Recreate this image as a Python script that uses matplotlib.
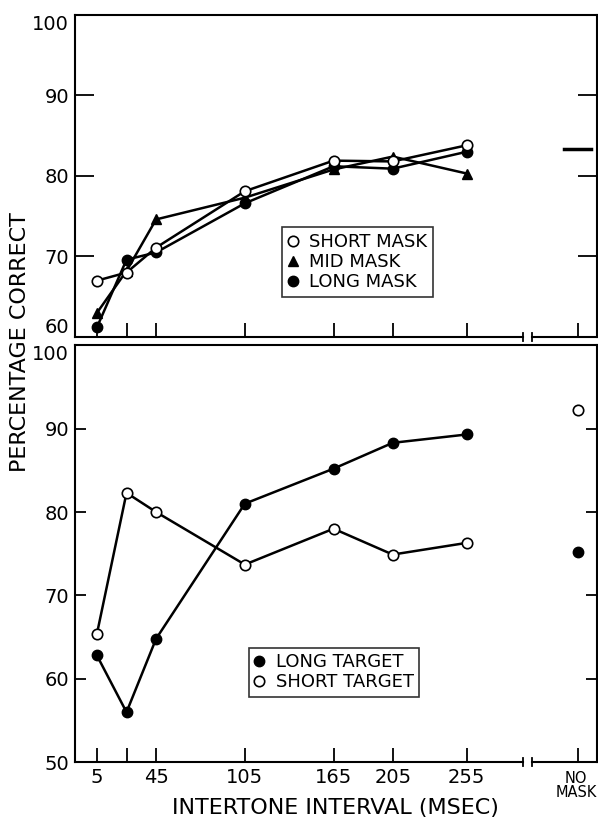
import numpy as np
import matplotlib.pyplot as plt

# intertone intervals (msec); the unlabeled tick is 25
x = [5, 25, 45, 105, 165, 205, 255]
NOMASK = 330  # position of the "no mask" column

short_mask = [67.0, 68.0, 71.1, 78.1, 81.9, 81.8, 83.8]
mid_mask = [63.0, 68.2, 74.6, 77.3, 80.8, 82.4, 80.3]
long_mask = [61.2, 69.6, 70.5, 76.6, 81.2, 80.9, 83.0]
nomask_top = 83.3

long_target = [62.8, 56.0, 64.8, 81.0, 85.2, 88.3, 89.3]
short_target = [65.4, 82.3, 80.0, 73.7, 78.0, 74.9, 76.3]
nomask_long = 75.2
nomask_short = 92.2

tick_pos = [5, 25, 45, 105, 165, 205, 255, NOMASK]
tick_lab = ['5', '', '45', '105', '165', '205', '255', '']

plt.rcParams['font.family'] = 'DejaVu Sans'

fig = plt.figure(figsize=(5.98, 8.24), dpi=100)
ax1 = fig.add_axes([0.125, 0.591, 0.873, 0.391])
ax2 = fig.add_axes([0.125, 0.075, 0.873, 0.506])

lw = 1.8
ms = 7.5
ax1.plot(x, short_mask, '-o', color='black', lw=lw, ms=ms, mfc='white', mec='black', mew=1.2, label='SHORT MASK', zorder=3)
ax1.plot(x, mid_mask, '-^', color='black', lw=lw, ms=ms, label='MID MASK', zorder=2)
ax1.plot(x, long_mask, '-o', color='black', lw=lw, ms=ms, label='LONG MASK', zorder=2)
ax1.plot([NOMASK - 9, NOMASK + 9], [nomask_top, nomask_top], color='black', lw=2.5)

ax2.plot(x, long_target, '-o', color='black', lw=lw, ms=ms, label='LONG TARGET', zorder=2)
ax2.plot(x, short_target, '-o', color='black', lw=lw, ms=ms, mfc='white', mec='black', mew=1.2, label='SHORT TARGET', zorder=3)
ax2.plot([NOMASK], [nomask_long], 'o', color='black', ms=ms)
ax2.plot([NOMASK], [nomask_short], 'o', color='black', ms=ms, mfc='white', mew=1.2)

ax1.set_ylim(60, 100)
ax2.set_ylim(50, 100)
ax1.set_yticks([60, 70, 80, 90, 100])
ax2.set_yticks([50, 60, 70, 80, 90, 100])

for ax, hpx in ((ax1, 322.0), (ax2, 417.0)):
    ax.set_xlim(-10, 343)
    ax.set_xticks(tick_pos)
    ax.set_xticklabels(tick_lab)
    ax.tick_params(direction='in', length=8, width=1.3, labelsize=14, right=True, top=False, pad=4)
    for s in ax.spines.values():
        s.set_linewidth(1.5)
    # broken x axis between 255 and NO MASK
    ax.spines['bottom'].set_visible(False)
    tr = ax.get_xaxis_transform()
    d = 4.0 / hpx
    ax.plot([-10, 293], [0, 0], color='black', lw=1.5, transform=tr, clip_on=False)
    ax.plot([299, 343], [0, 0], color='black', lw=1.5, transform=tr, clip_on=False)
    ax.plot([293, 293], [-d, d], color='black', lw=1.3, transform=tr, clip_on=False)
    ax.plot([299, 299], [-d, d], color='black', lw=1.3, transform=tr, clip_on=False)

ax1.tick_params(axis='x', labelbottom=False, length=10)
ax1.tick_params(axis='y', length=14)
ax2.tick_params(axis='x', length=10)

# keep the two stacked labels at the panel joint apart
lab = ax1.get_yticklabels()
lab[0].set_va('bottom')
lab[-1].set_va('top')
lab2 = ax2.get_yticklabels()
lab2[-1].set_va('top')

ax2.text(NOMASK - 1, -0.022, 'NO\nMASK', transform=ax2.get_xaxis_transform(), ha='center', va='top', fontsize=10.5, linespacing=0.9)
ax2.set_xlabel('INTERTONE INTERVAL (MSEC)', fontsize=16, labelpad=8)
fig.text(0.033, 0.585, 'PERCENTAGE CORRECT', rotation=90, ha='center', va='center', fontsize=16)

leg1 = ax1.legend(loc='upper left', bbox_to_anchor=(0.397, 0.34), fontsize=13, frameon=True, fancybox=False,
                  handlelength=0.6, handletextpad=0.6, borderpad=0.3, labelspacing=0.12, borderaxespad=0)
leg1.get_frame().set_edgecolor('black')
leg1.get_frame().set_linewidth(1.2)
for h in leg1.get_lines():
    h.set_linestyle('none')

leg2 = ax2.legend(loc='upper left', bbox_to_anchor=(0.333, 0.275), fontsize=13, frameon=True, fancybox=False,
                  handlelength=0.6, handletextpad=0.6, borderpad=0.3, labelspacing=0.12, borderaxespad=0)
leg2.get_frame().set_edgecolor('black')
leg2.get_frame().set_linewidth(1.2)
for h in leg2.get_lines():
    h.set_linestyle('none')

fig.savefig('out.png', dpi=100)
